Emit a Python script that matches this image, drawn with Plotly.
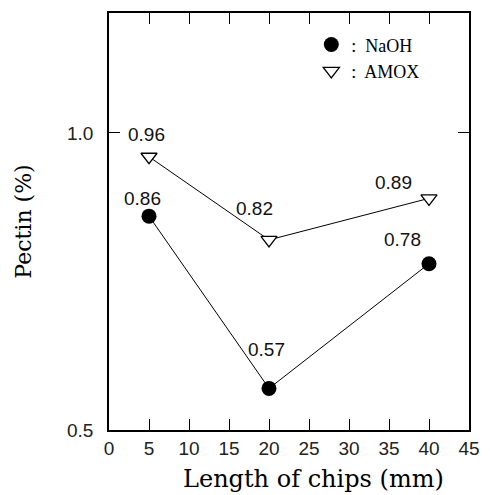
import plotly.graph_objects as go

length_mm = [5, 20, 40]
naoh = [0.86, 0.57, 0.78]
amox = [0.96, 0.82, 0.89]
x_ticks = [0, 5, 10, 15, 20, 25, 30, 35, 40, 45]
y_ticks = [0.5, 1.0]
y_tick_labels = ["0.5", "1.0"]

# label offsets (pixels) relative to markers
naoh_dx = [-7, -3, -27]
naoh_dy = [18, 39, 24]
amox_dx = [-3, -15, -36]
amox_dy = [22, 31, 16]

sans = "Liberation Sans, Arial, sans-serif"
serif = "Liberation Serif, Times New Roman, serif"
title_font = "DejaVu Serif, serif"

fig = go.Figure()
# connecting lines
for ys in (naoh, amox):
    fig.add_trace(go.Scatter(x=length_mm, y=ys, mode="lines", showlegend=False,
                             line=dict(color="black", width=1), hoverinfo="skip"))
# markers
fig.add_trace(go.Scatter(
    x=length_mm, y=naoh, mode="markers", name=":  NaOH",
    marker=dict(symbol="circle", size=15, color="black"),
))
fig.add_trace(go.Scatter(
    x=length_mm, y=amox, mode="markers", name=":  AMOX",
    marker=dict(symbol="triangle-down", size=14, color="white",
                line=dict(color="black", width=1.3)),
))

for xs, ys, dxs, dys in [(length_mm, naoh, naoh_dx, naoh_dy), (length_mm, amox, amox_dx, amox_dy)]:
    for x, y, dx, dy in zip(xs, ys, dxs, dys):
        fig.add_annotation(x=x, y=y, text=f"{y:.2f}", showarrow=False,
                           xshift=dx, yshift=dy, xanchor="center", yanchor="middle",
                           font=dict(family=sans, size=19, color="#111"))

# x-axis title (placed slightly right of centre, as in the original)
fig.add_annotation(xref="paper", yref="paper", x=0.569, y=-0.118,
                   text="Length of chips (mm)", showarrow=False,
                   xanchor="center", yanchor="middle",
                   font=dict(family=title_font, size=24, color="black"))

fig.update_layout(
    width=490, height=495,
    margin=dict(l=109, r=21, t=13, b=65),
    paper_bgcolor="white", plot_bgcolor="white",
    showlegend=True,
    legend=dict(x=0.562, y=0.968, xanchor="left", yanchor="top",
                bgcolor="rgba(0,0,0,0)", borderwidth=0,
                font=dict(family=serif, size=18, color="black"),
                tracegroupgap=0, itemsizing="trace"),
    xaxis=dict(range=[0, 45], tickvals=x_ticks, ticks="inside", ticklen=11,
               tickwidth=1, tickcolor="black", showline=True, linecolor="black",
               linewidth=1.5, mirror="ticks", showgrid=False, zeroline=False,
               automargin=False,
               tickfont=dict(family=sans, size=19, color="#222")),
    yaxis=dict(range=[0.5, 1.202], tickvals=y_ticks, ticktext=y_tick_labels,
               ticks="inside", ticklen=11, tickwidth=1, tickcolor="black",
               showline=True, linecolor="black", linewidth=1.5, mirror="ticks",
               showgrid=False, zeroline=False, automargin=False,
               ticklabelstandoff=10,
               tickfont=dict(family=sans, size=19, color="#222"),
               title=dict(text="Pectin (%)", standoff=29,
                          font=dict(family=title_font, size=22, color="black"))),
)

fig.write_html("out.html")
